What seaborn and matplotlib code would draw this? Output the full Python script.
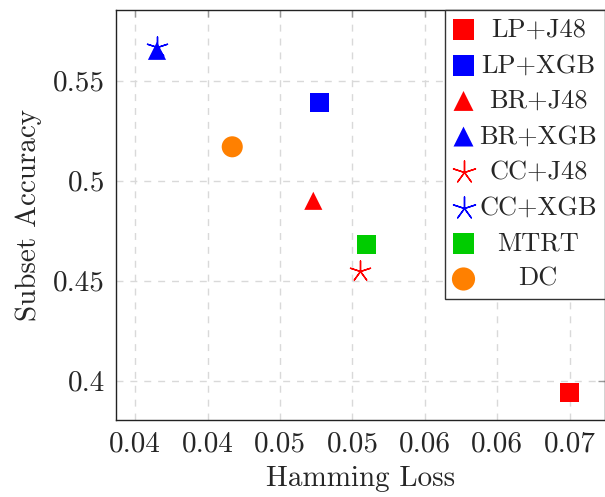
import matplotlib
matplotlib.use("Agg")
import matplotlib.pyplot as plt
import seaborn as sns
import pandas as pd

methods = ["LP+J48", "LP+XGB", "BR+J48", "BR+XGB", "CC+J48", "CC+XGB", "MTRT", "DC"]
hamming_loss = [0.0700, 0.0527, 0.0523, 0.0415, 0.0555, 0.0415, 0.0560, 0.0467]
subset_acc = [0.394, 0.539, 0.490, 0.565, 0.455, 0.567, 0.468, 0.517]
colors = ["#ff0000", "#0000ff", "#ff0000", "#0000ff", "#ff0000", "#0000ff", "#00cc00", "#ff8000"]
markers = ["s", "s", "^", "^", (5, 2, 0), (5, 2, 0), "s", "o"]
sizes = [190, 190, 170, 170, 230, 230, 190, 230]

x_ticks = [0.04, 0.045, 0.05, 0.055, 0.06, 0.065, 0.07]
x_ticklabels = ["0.04", "0.04", "0.05", "0.05", "0.06", "0.06", "0.07"]
y_ticks = [0.4, 0.45, 0.5, 0.55]
y_ticklabels = ["0.4", "0.45", "0.5", "0.55"]

df = pd.DataFrame({"method": methods, "hl": hamming_loss, "sa": subset_acc})

sns.set_style("white")
plt.rcParams["font.family"] = ["cmr10", "DejaVu Serif"]
plt.rcParams["axes.formatter.use_mathtext"] = True

fig = plt.figure(figsize=(6.05, 4.97), dpi=100)
ax = fig.add_axes([116 / 605, 77 / 497, 489 / 605, 410 / 497])

for i, m in enumerate(methods):
    sub = df[df["method"] == m]
    is_star = isinstance(markers[i], tuple)
    sns.scatterplot(data=sub, x="hl", y="sa", ax=ax, marker=markers[i],
                    color=colors[i], s=sizes[i], label=m,
                    linewidth=1.0 if is_star else 0,
                    edgecolor=colors[i] if is_star else "none", zorder=3)

ax.set_xlim(0.03867, 0.07245)
ax.set_ylim(0.3804, 0.5854)
ax.set_xticks(x_ticks)
ax.set_xticklabels(x_ticklabels)
ax.set_yticks(y_ticks)
ax.set_yticklabels(y_ticklabels)
ax.grid(True, color="#d9d9d9", linestyle=(0, (5, 5)), linewidth=1.0)
ax.tick_params(axis="both", which="both", direction="in", length=5, width=1,
               color="#999999", labelsize=21, top=True, right=True, pad=8)
ax.set_xlabel("Hamming Loss", fontsize=21, labelpad=6)
ax.set_ylabel("Subset Accuracy", fontsize=21, labelpad=8)
for sp in ax.spines.values():
    sp.set_color("#222222")
    sp.set_linewidth(1.0)

leg = ax.legend(loc="upper right", bbox_to_anchor=(1.0, 1.0), borderaxespad=0,
                fontsize=19, frameon=True, fancybox=False, framealpha=1,
                edgecolor="#333333", handletextpad=0.2, labelspacing=0.45,
                borderpad=0.3, handlelength=0.8, markerscale=1.1)
leg.get_frame().set_linewidth(1.0)
leg.set_zorder(5)

fig.canvas.draw()
r = fig.canvas.get_renderer()
texts = leg.get_texts()
widths = [t.get_window_extent(r).width for t in texts]
maxw = max(widths)
for t, w in zip(texts, widths):
    t.set_position(((maxw - w) / 2, 0))

fig.savefig("out.png", dpi=100)
